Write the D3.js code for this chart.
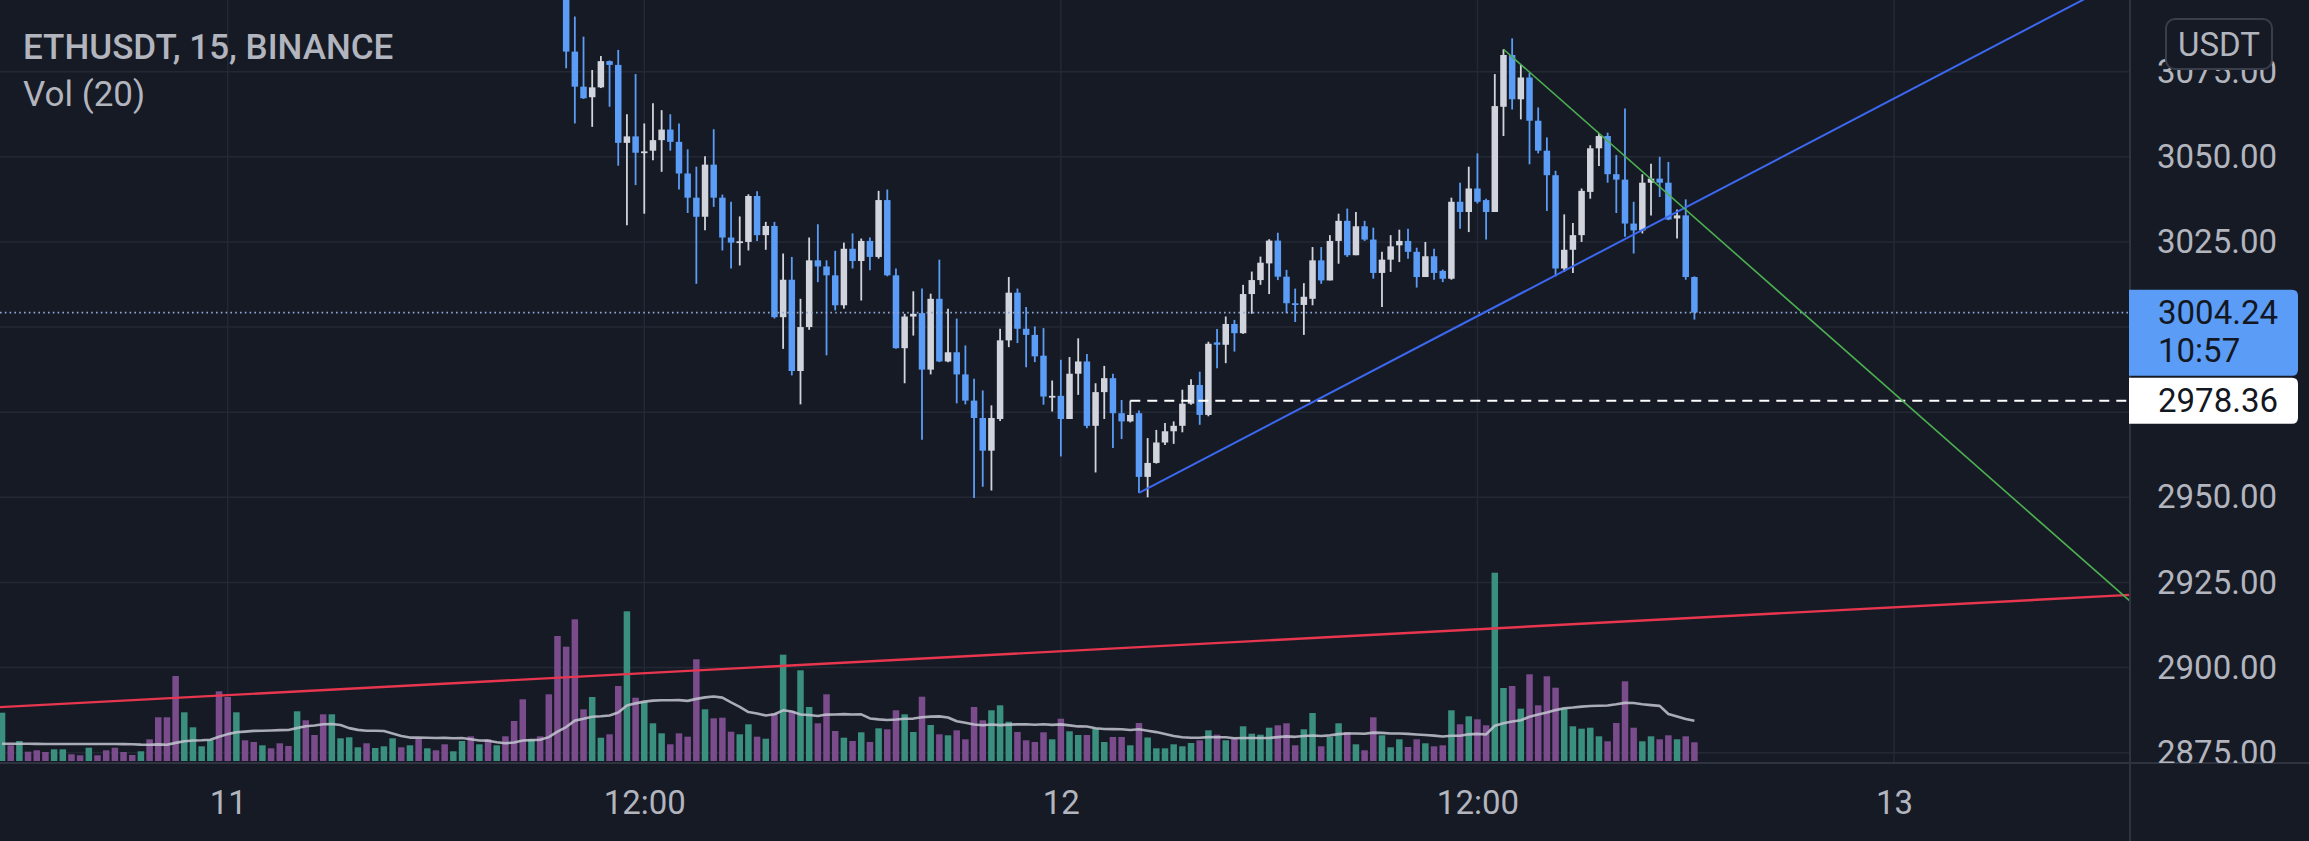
<!DOCTYPE html>
<html>
<head>
<meta charset="utf-8">
<script src="https://cdn.jsdelivr.net/npm/d3@7"></script>
<style>
html,body{margin:0;padding:0;background:#161a25;overflow:hidden}
svg text{font-family:Roboto,"Noto Sans",sans-serif}
</style>
</head>
<body>
<svg id="chart" width="2309" height="841"></svg>
<script>
// ---------------- DATA ----------------
const symbolTitle = "ETHUSDT, 15, BINANCE";
const volumeTitle = "Vol (20)";
const currency = "USDT";

// 15-minute candles, first visible candle
const firstCandle = "2022-04-11T09:45:00Z";
const candleOpen = [
 3100.0,3080.9,3070.6,3067.5,3070.4,3078.1,3077.0,3054.1,3056.0,3051.2,
 3051.8,3054.9,3058.0,3054.4,3045.1,3038.0,3032.4,3047.7,3038.0,3026.3,
 3024.8,3025.0,3038.5,3027.0,3029.7,3002.9,3013.9,2987.1,3000.0,3019.6,
 3017.8,3015.2,3006.4,3023.0,3019.4,3025.3,3020.6,3037.3,3015.2,2993.8,
 3003.1,3004.1,2987.5,3008.3,2989.9,2992.6,2986.1,2978.4,2973.3,2963.7,
 2973.0,2996.1,3010.1,2999.5,2997.7,2991.6,2979.6,2979.8,2973.0,2986.3,
 2989.9,2971.0,2980.9,2985.0,2974.7,2972.3,2974.7,2956.0,2960.1,2966.1,
 2969.4,2971.0,2977.5,2983.0,2974.2,2995.5,2994.8,3000.9,2998.2,3009.7,
 3013.8,3018.7,3025.4,3014.8,3007.0,3006.5,3008.3,3019.6,3013.7,3025.3,
 3031.2,3021.1,3029.6,3025.7,3015.9,3019.8,3024.0,3025.3,3022.1,3014.7,
 3020.8,3016.5,3014.2,3036.8,3033.8,3040.7,3037.3,3033.8,3064.7,3079.9,
 3066.9,3073.3,3060.6,3051.8,3044.6,3017.2,3022.7,3027.0,3039.7,3052.5,
 3056.1,3044.9,3043.3,3030.4,3028.4,3042.4,3043.6,3042.4,3031.9,3032.8,
 3014.7];
const candleHigh = [
 3106.0,3091.2,3085.3,3075.5,3079.6,3078.3,3081.4,3062.5,3074.3,3059.8,
 3065.7,3063.7,3062.5,3059.8,3052.2,3047.1,3050.2,3058.1,3038.9,3036.8,
 3032.5,3039.0,3039.9,3030.9,3030.9,3021.6,3020.6,3008.3,3026.3,3030.2,
 3019.6,3022.4,3024.8,3027.5,3026.0,3026.3,3040.0,3040.4,3017.2,3003.9,
 3010.5,3011.3,3009.8,3019.8,3005.4,3002.5,2994.6,2984.8,2981.4,2977.0,
 2999.5,3014.7,3011.3,3005.9,3000.2,2999.7,2984.3,2990.4,2991.2,2996.7,
 2992.1,2983.5,2988.6,2986.3,2978.6,2978.4,2975.5,2967.4,2969.8,2971.8,
 2972.3,2981.6,2984.7,2986.9,2995.7,2999.4,3003.1,3002.1,3012.4,3016.3,
 3020.7,3025.8,3027.7,3016.8,3011.3,3012.9,3023.5,3023.5,3027.0,3033.3,
 3034.8,3033.8,3031.2,3029.2,3022.1,3027.0,3028.6,3028.9,3023.3,3025.0,
 3023.0,3016.9,3038.0,3042.4,3047.1,3051.0,3037.7,3074.3,3081.6,3084.8,
 3077.0,3074.7,3064.5,3055.7,3045.9,3033.1,3030.6,3040.7,3053.4,3056.9,
 3057.1,3050.5,3064.2,3036.8,3044.9,3048.0,3050.0,3048.5,3034.5,3037.5,
 3014.9];
const candleLow = [
 3076.0,3059.8,3067.0,3058.8,3070.2,3064.7,3047.4,3029.9,3041.7,3033.3,
 3049.0,3045.6,3051.8,3040.4,3033.5,3012.7,3028.4,3035.3,3022.5,3017.2,
 3018.1,3022.5,3025.3,3022.7,3002.5,2993.6,2985.8,2977.3,2999.2,3013.2,
 2991.7,3004.9,3005.4,3017.2,3007.8,3016.7,3020.1,3014.9,2993.6,2983.5,
 2997.5,2966.9,2986.1,2989.7,2989.7,2977.6,2977.3,2949.8,2953.1,2952.0,
 2972.4,2994.1,2995.3,2988.2,2989.7,2977.2,2975.2,2962.0,2973.0,2980.1,
 2970.3,2957.3,2973.0,2964.5,2967.1,2972.0,2951.3,2950.0,2959.9,2965.4,
 2965.7,2969.1,2977.2,2971.3,2973.8,2987.9,2989.4,2992.8,2998.0,3003.9,
 3012.4,3009.7,3013.8,3004.1,3001.5,2997.7,3006.4,3012.7,3013.7,3018.6,
 3020.6,3021.1,3025.3,3014.2,3005.9,3016.2,3019.1,3020.1,3011.6,3014.7,
 3013.9,3013.2,3013.9,3028.9,3027.9,3036.3,3025.7,3033.8,3056.1,3063.9,
 3061.0,3047.8,3051.0,3034.1,3014.9,3016.2,3015.9,3025.0,3037.7,3047.3,
 3042.4,3033.5,3026.5,3021.6,3027.5,3032.8,3038.2,3031.4,3026.0,3013.9,
 3002.2];
const candleClose = [
 3080.9,3070.6,3067.2,3070.4,3078.1,3077.0,3054.1,3056.0,3051.2,3051.6,
 3054.9,3058.0,3054.4,3045.1,3038.0,3032.4,3047.7,3038.0,3026.3,3024.8,
 3025.2,3038.5,3027.0,3029.7,3002.9,3013.9,2987.1,3000.0,3019.6,3017.8,
 3015.2,3006.4,3023.0,3019.4,3025.3,3020.6,3037.3,3015.2,2993.8,3003.1,
 3003.9,2987.5,3008.3,2989.9,2992.6,2986.1,2978.4,2973.3,2963.7,2973.3,
 2996.1,3010.1,2999.5,2997.7,2991.4,2979.6,2979.8,2973.0,2986.3,2989.9,
 2971.0,2980.9,2985.0,2974.7,2972.3,2974.2,2956.0,2960.1,2966.1,2969.4,
 2971.0,2977.5,2983.0,2974.2,2995.1,2994.8,3000.9,2998.2,3009.7,3013.8,
 3018.9,3025.4,3014.8,3007.0,3006.5,3008.9,3019.6,3013.7,3025.3,3031.2,
 3021.1,3029.6,3025.7,3015.9,3019.8,3023.7,3025.3,3022.1,3014.7,3020.8,
 3015.9,3014.2,3036.8,3033.8,3040.7,3036.8,3033.8,3064.9,3079.9,3066.9,
 3073.3,3060.6,3051.8,3044.6,3017.2,3022.7,3027.0,3040.0,3052.5,3056.1,
 3044.9,3043.3,3030.4,3028.4,3042.4,3043.6,3042.4,3031.6,3032.8,3014.7,
 3004.24];

// Volume bars (ETH), first visible volume bar
const firstVolumeBar = "2022-04-10T17:30:00Z";
const volumes = [
 4830,1570,2000,930,1070,900,1170,1170,670,570,
 1330,570,1070,1330,900,600,970,2170,4370,4370,
 8500,4870,3370,1470,2070,6970,6400,4870,2070,1900,
 1570,1270,1770,1500,4970,4070,2600,4670,4670,2270,
 2370,1370,1770,1300,1470,2270,1370,1570,2270,1270,
 1070,1670,970,2000,2470,1670,2170,1570,2470,4000,
 6170,2170,2470,6670,12500,11430,14170,5170,6400,2330,
 2670,7500,14970,6330,5900,3770,2770,1670,2770,2430,
 10170,5170,4270,4330,2930,2670,3670,2430,2230,4770,
 10630,5000,9070,5400,3770,6670,3000,2330,2000,2870,
 1900,3270,3170,5070,4670,2900,6430,3600,2670,2570,
 3070,2170,5400,4070,5070,5570,3930,2900,2070,1900,
 2870,2170,4230,2970,2600,2600,3230,1900,2400,2400,
 1570,3800,2350,1270,1270,1670,1470,1800,2070,3070,
 2630,2070,2230,3470,2730,2630,3330,3570,3770,1570,
 3170,4800,1470,2400,3770,2900,1670,1070,4370,2570,
 1370,2170,1400,2170,1770,1470,1570,5070,3670,4470,
 4170,3570,18830,7300,7500,5230,8670,5570,8470,7330,
 5230,3470,3230,3330,2470,1970,3800,7970,3330,1970,
 2470,2170,2570,2170,2470,1870];
// direction of the volume bars whose candles are above the visible range (u = up, d = down)
const volumeDirBeforeCandles = [
 "u","d","u","d","d","d","u","u","d","d",
 "u","d","d","d","d","d","u","d","d","d",
 "d","u","u","u","u","d","d","u","d","d",
 "u","d","d","d","u","d","d","d","u","u",
 "u","u","d","u","u","u","d","u","d","u",
 "d","d","u","u","d","u","d","u","d","d",
 "d","u","d","d","d"];
// Vol (20) moving average values read where its 20-bar window starts off-screen
const volumeMaLead = [1730,1730,1730,1720,1710,1700,1700,1700,1700,1700,
 1700,1700,1700,1700,1690,1670,1640,1630,1660];
const volumeMaLength = 20;

const priceTicks = [2875, 2900, 2925, 2950, 2975, 3000, 3025, 3050, 3075];
const timeTicks = ["2022-04-11T00:00:00Z","2022-04-11T12:00:00Z","2022-04-12T00:00:00Z","2022-04-12T12:00:00Z","2022-04-13T00:00:00Z"];
const timeTickLabels = ["11","12:00","12","12:00","13"];

// drawings
const trendBlue  = [["2022-04-12T02:15:00Z",2951.3],["2022-04-12T14:15:00Z",3015.2]];
const trendGreen = [["2022-04-12T12:45:00Z",3081.6],["2022-04-12T15:30:00Z",3056.9]];
const trendRed   = [["2022-04-11T00:00:00Z",2891.9],["2022-04-12T16:00:00Z",2913.4]];
const horizontalRay = {start:"2022-04-12T02:00:00Z", price:2978.36};
const lastPrice = 3004.24;
const countdown = "10:57";

// ---------------- LAYOUT ----------------
const W = 2309, H = 841;
const plotRight = 2130, paneBottom = 763;
const BG = "#161a25", GRID = "#242835", SEP = "#2f3340", TXT = "#b2b5be";
const UP = "#d1d4dc", DOWN = "#5b9cf6";
const VOL_UP = "#3a8f7e", VOL_DOWN = "#7a4c8c";
const BAR = 15 * 60 * 1000;
const dayStart = Date.parse(timeTicks[0]);

const svg = d3.select("#chart");
svg.append("rect").attr("width", W).attr("height", H).attr("fill", BG);

const x = d3.scaleUtc()
  .domain([new Date(dayStart - 26.235 * BAR), new Date(dayStart + 219.19 * BAR)])
  .range([0, plotRight]);
const y = d3.scaleLinear().domain([2875, 3075]).range([752.7, 71.7]);
const yv = d3.scaleLinear().domain([0, 20000]).range([761, 561]);

const defs = svg.append("defs");
defs.append("clipPath").attr("id", "plotClip").append("rect")
  .attr("x", 0).attr("y", 0).attr("width", plotRight).attr("height", paneBottom);
defs.append("clipPath").attr("id", "axisClip").append("rect")
  .attr("x", plotRight + 1).attr("y", 0).attr("width", W - plotRight).attr("height", paneBottom);

const plot = svg.append("g").attr("clip-path", "url(#plotClip)");

// grid
plot.append("g").selectAll("line").data(priceTicks).join("line")
  .attr("x1", 0).attr("x2", plotRight)
  .attr("y1", d => y(d)).attr("y2", d => y(d))
  .attr("stroke", GRID).attr("stroke-width", 1.5);
plot.append("g").selectAll("line").data(timeTicks).join("line")
  .attr("x1", d => x(new Date(d))).attr("x2", d => x(new Date(d)))
  .attr("y1", 0).attr("y2", paneBottom)
  .attr("stroke", GRID).attr("stroke-width", 1.5);

// volume
const volStart = Date.parse(firstVolumeBar);
const candleStart = Date.parse(firstCandle);
const candleOffset = Math.round((candleStart - volStart) / BAR);
const volData = volumes.map((v, k) => {
  const ci = k - candleOffset;
  const up = ci < 0 ? volumeDirBeforeCandles[k] === "u" : candleClose[ci] >= candleOpen[ci];
  let ma;
  if (k >= volumeMaLength - 1) ma = d3.mean(volumes.slice(k - volumeMaLength + 1, k + 1));
  else ma = volumeMaLead[k];
  return {t: new Date(volStart + k * BAR), v, up, ma};
});
const bw = 6.5;
plot.append("g").selectAll("rect").data(volData).join("rect")
  .attr("x", d => x(d.t) - bw / 2).attr("width", bw)
  .attr("y", d => yv(d.v)).attr("height", d => yv(0) - yv(d.v))
  .attr("fill", d => d.up ? VOL_UP : VOL_DOWN);
plot.append("path").datum(volData)
  .attr("d", d3.line().x(d => x(d.t)).y(d => yv(d.ma)))
  .attr("fill", "none").attr("stroke", "#c3c6d0").attr("stroke-opacity", 0.85)
  .attr("stroke-width", 2.6).attr("stroke-linejoin", "round");

// red trend line (extended both ways)
function pt(a) { return [x(new Date(a[0])), y(a[1])]; }
function extendLine(a, b, left, right) {
  const p1 = pt(a), p2 = pt(b);
  const s = (p2[1] - p1[1]) / (p2[0] - p1[0]);
  const xs = left ? 0 : p1[0];
  const xe = right ? plotRight : p2[0];
  return [[xs, p1[1] + s * (xs - p1[0])], [xe, p1[1] + s * (xe - p1[0])]];
}
const red = extendLine(trendRed[0], trendRed[1], true, true);
plot.append("line").attr("x1", red[0][0]).attr("y1", red[0][1]).attr("x2", red[1][0]).attr("y2", red[1][1])
  .attr("stroke", "#e8364f").attr("stroke-width", 2.4);

// candles
const candles = candleOpen.map((o, i) => ({
  t: new Date(candleStart + i * BAR), o, h: candleHigh[i], l: candleLow[i], c: candleClose[i]
}));
const cg = plot.append("g");
cg.selectAll("line").data(candles).join("line")
  .attr("x1", d => x(d.t)).attr("x2", d => x(d.t))
  .attr("y1", d => y(d.h)).attr("y2", d => y(d.l))
  .attr("stroke", d => d.c >= d.o ? UP : DOWN).attr("stroke-width", 1.8);
cg.selectAll("rect").data(candles).join("rect")
  .attr("x", d => x(d.t) - bw / 2).attr("width", bw)
  .attr("y", d => y(Math.max(d.o, d.c)))
  .attr("height", d => Math.max(1.8, Math.abs(y(d.o) - y(d.c))))
  .attr("fill", d => d.c >= d.o ? UP : DOWN);

// last price dotted line
plot.append("line").attr("x1", 0).attr("x2", plotRight)
  .attr("y1", y(lastPrice)).attr("y2", y(lastPrice))
  .attr("stroke", "#8ea9d6").attr("stroke-width", 1.6).attr("stroke-dasharray", "1.6,3.2");

// horizontal ray
plot.append("line")
  .attr("x1", x(new Date(horizontalRay.start))).attr("x2", plotRight)
  .attr("y1", y(horizontalRay.price)).attr("y2", y(horizontalRay.price))
  .attr("stroke", "#ffffff").attr("stroke-width", 2).attr("stroke-dasharray", "10,7");

// blue & green rays
const blue = extendLine(trendBlue[0], trendBlue[1], false, true);
plot.append("line").attr("x1", blue[0][0]).attr("y1", blue[0][1]).attr("x2", blue[1][0]).attr("y2", blue[1][1])
  .attr("stroke", "#3c68f0").attr("stroke-width", 2);
const green = extendLine(trendGreen[0], trendGreen[1], false, true);
plot.append("line").attr("x1", green[0][0]).attr("y1", green[0][1]).attr("x2", green[1][0]).attr("y2", green[1][1])
  .attr("stroke", "#4caf50").attr("stroke-width", 1.6);

// separators
svg.append("line").attr("x1", 0).attr("x2", W).attr("y1", paneBottom).attr("y2", paneBottom)
  .attr("stroke", SEP).attr("stroke-width", 2);
svg.append("line").attr("x1", plotRight).attr("x2", plotRight).attr("y1", 0).attr("y2", H)
  .attr("stroke", SEP).attr("stroke-width", 2);

// price label boxes (their extents hide colliding axis labels, as the platform does)
const yl = y(lastPrice), yh = y(horizontalRay.price);
const lastBox = [yl - 23, 86], rayBox = [yh - 23, 46];
const hidden = p => [lastBox, rayBox].some(b => y(p) > b[0] - 8 && y(p) < b[0] + b[1] + 8);

// price axis
const pa = svg.append("g").attr("clip-path", "url(#axisClip)")
  .append("g").attr("transform", `translate(${plotRight},0)`)
  .call(d3.axisRight(y).tickValues(priceTicks.filter(p => !hidden(p)))
    .tickFormat(d3.format(".2f")).tickSize(0).tickPadding(27));
pa.select(".domain").remove();
pa.selectAll("text").attr("fill", TXT).style("font-size", "33px").style("font-family", "Roboto");

// currency box
svg.append("rect").attr("x", 2166).attr("y", 19).attr("width", 106).attr("height", 50).attr("rx", 9)
  .attr("fill", BG).attr("stroke", "#3a3e4a").attr("stroke-width", 2);
svg.append("text").attr("x", 2219).attr("y", 44).attr("dy", "0.355em").attr("text-anchor", "middle")
  .attr("fill", TXT).style("font-size", "33px").text(currency);

function labelBox(yTop, h, fill) {
  const x0 = plotRight - 1, w = 169, r = 6;
  return svg.append("path").attr("fill", fill)
    .attr("d", `M${x0},${yTop}H${x0 + w - r}Q${x0 + w},${yTop} ${x0 + w},${yTop + r}V${yTop + h - r}Q${x0 + w},${yTop + h} ${x0 + w - r},${yTop + h}H${x0}Z`);
}
labelBox(lastBox[0], lastBox[1], DOWN);
svg.append("text").attr("x", 2158).attr("y", yl).attr("dy", "0.355em").attr("fill", "#131722")
  .style("font-size", "33px").text(d3.format(".2f")(lastPrice));
svg.append("text").attr("x", 2158).attr("y", yl + 38).attr("dy", "0.355em").attr("fill", "#131722")
  .style("font-size", "33px").text(countdown);
labelBox(rayBox[0], rayBox[1], "#ffffff");
svg.append("text").attr("x", 2158).attr("y", yh).attr("dy", "0.355em").attr("fill", "#131722")
  .style("font-size", "33px").text(d3.format(".2f")(horizontalRay.price));

// time axis
const ta = svg.append("g").attr("transform", `translate(0,${paneBottom})`)
  .call(d3.axisBottom(x).tickValues(timeTicks.map(d => new Date(d)))
    .tickFormat((d, i) => timeTickLabels[i]).tickSize(0).tickPadding(28));
ta.select(".domain").remove();
ta.selectAll("text").attr("fill", TXT).style("font-size", "33px").style("font-family", "Roboto");

// legend
svg.append("text").attr("x", 23).attr("y", 58.5).attr("fill", TXT)
  .style("font-size", "35px").style("font-weight", 500).text(symbolTitle);
svg.append("text").attr("x", 23).attr("y", 106).attr("fill", TXT)
  .style("font-size", "35px").text(volumeTitle);
</script>
</body>
</html>
